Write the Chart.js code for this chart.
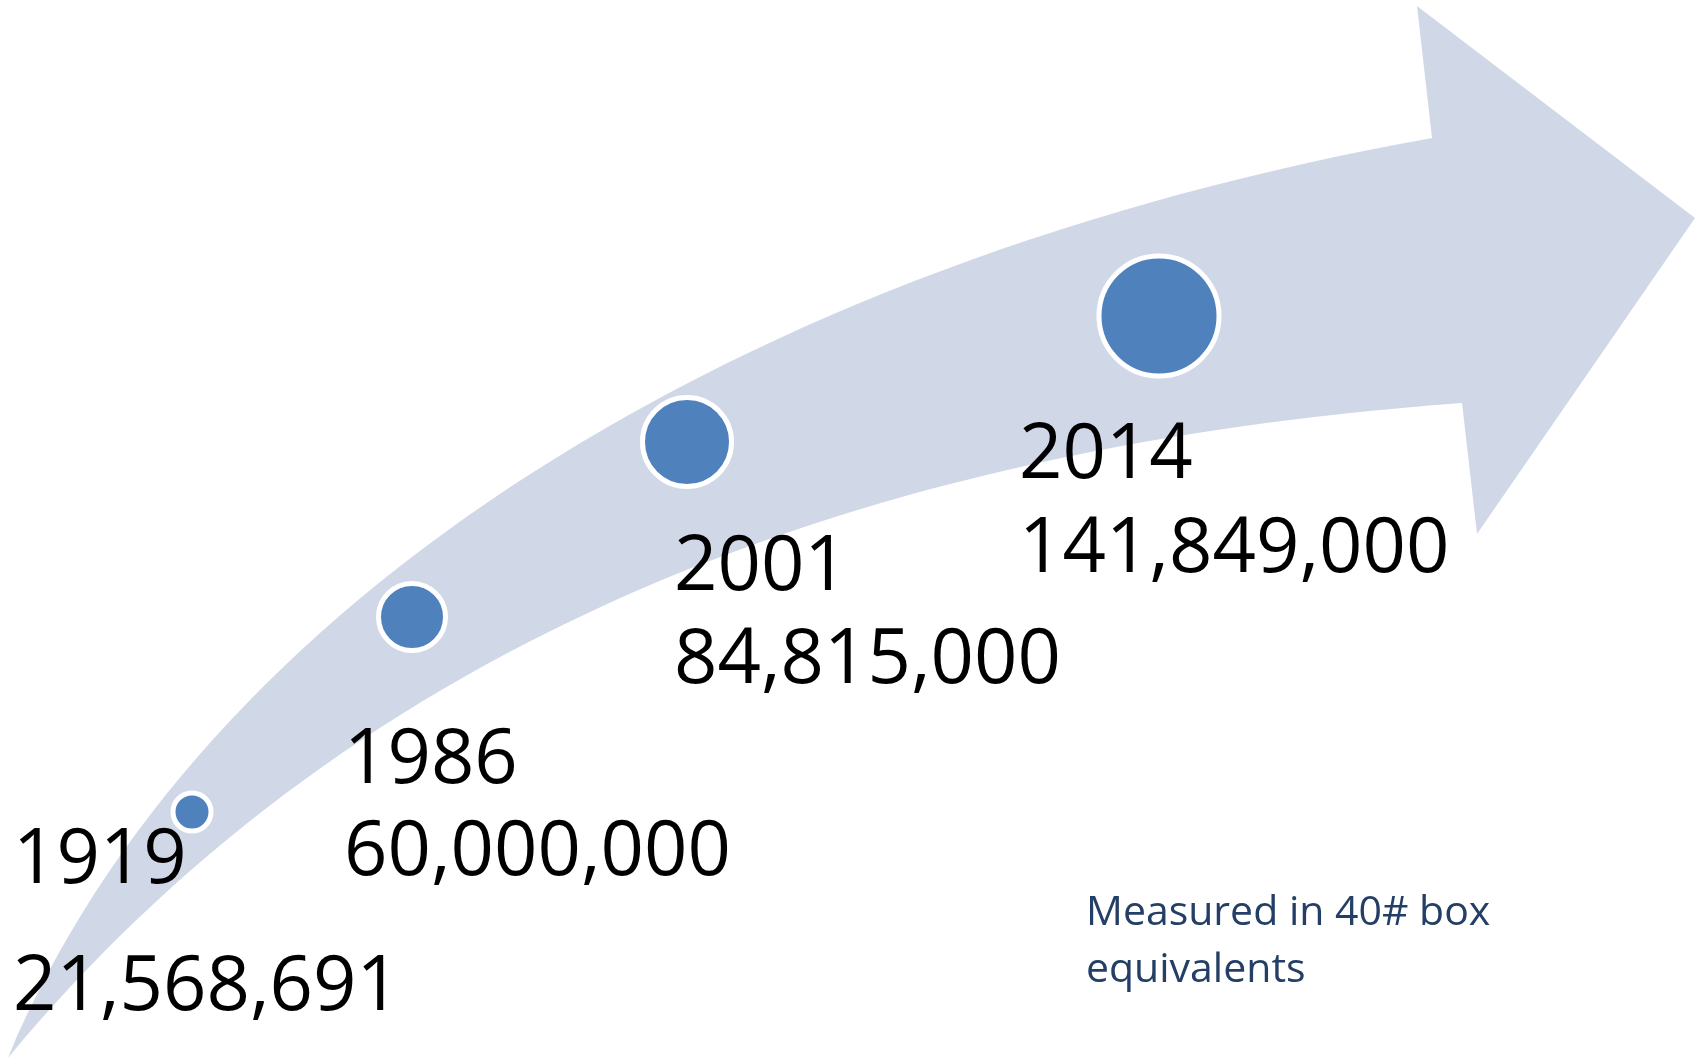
<!DOCTYPE html>
<html>
<head>
<meta charset="utf-8">
<script src="https://cdn.jsdelivr.net/npm/chart.js@4/dist/chart.umd.min.js"></script>
<style>
  html, body { margin: 0; padding: 0; background: #fff; }
  #wrap { width: 1702px; height: 1060px; }
</style>
</head>
<body>
<div id="wrap"><canvas id="graficoCajas" width="1702" height="1060"></canvas></div>
<script>
// Datos
const years = ['1919', '1986', '2001', '2014'];
const volumes = [21568691, 60000000, 84815000, 141849000];
const note = ['Measured in 40# box', 'equivalents'];

// Maquetación (unidades del diagrama, 1702 x 1060)
const markerX = [192, 412, 687, 1159];
const markerY = [812, 617, 442, 316];
const markerR = [19, 33.5, 44.5, 60];
const labelX = [13, 344, 674, 1019];
const yearBase = [883, 783, 590, 478];
const valueBase = [1010, 875, 683, 572];

const FONT = '"Open Sans", "Noto Sans", sans-serif';

// Flecha curva de fondo
const arrowPlugin = {
  id: 'arrow',
  beforeDatasetsDraw(chart) {
    const { ctx, scales: { x, y } } = chart;
    const X = v => x.getPixelForValue(v);
    const Y = v => y.getPixelForValue(v);
    ctx.save();
    ctx.beginPath();
    ctx.moveTo(X(8), Y(1058));
    ctx.bezierCurveTo(X(200), Y(600), X(740), Y(262), X(1432), Y(138));
    ctx.lineTo(X(1417), Y(6));
    ctx.lineTo(X(1695), Y(218));
    ctx.lineTo(X(1477), Y(534));
    ctx.lineTo(X(1462), Y(403));
    ctx.bezierCurveTo(X(820), Y(450), X(340), Y(660), X(8), Y(1058));
    ctx.closePath();
    ctx.fillStyle = '#D0D8E8';
    ctx.fill();
    ctx.restore();
  }
};

// Etiquetas
const labelPlugin = {
  id: 'labels',
  afterDatasetsDraw(chart) {
    const { ctx, scales: { x, y } } = chart;
    ctx.save();
    ctx.textAlign = 'left';
    ctx.textBaseline = 'alphabetic';
    ctx.fillStyle = '#000';
    ctx.font = '76px ' + FONT;
    years.forEach((yr, i) => {
      const px = x.getPixelForValue(labelX[i]);
      ctx.fillText(yr, px, y.getPixelForValue(yearBase[i]));
      ctx.fillText(volumes[i].toLocaleString('en-US'), px, y.getPixelForValue(valueBase[i]));
    });
    ctx.fillStyle = '#243F66';
    ctx.font = '41px ' + FONT;
    ctx.fillText(note[0], x.getPixelForValue(1086), y.getPixelForValue(925));
    ctx.fillText(note[1], x.getPixelForValue(1086), y.getPixelForValue(982));
    ctx.restore();
  }
};

new Chart(document.getElementById('graficoCajas').getContext('2d'), {
  type: 'bubble',
  data: {
    labels: years,
    datasets: [{
      label: 'Cajas',
      data: years.map((yr, i) => ({ x: markerX[i], y: markerY[i], r: markerR[i] })),
      backgroundColor: '#4F81BD',
      borderColor: '#FFFFFF',
      borderWidth: 5,
      clip: false
    }]
  },
  options: {
    responsive: false,
    animation: false,
    events: [],
    layout: { padding: 0, autoPadding: false },
    plugins: { legend: { display: false }, tooltip: { enabled: false } },
    scales: {
      x: { type: 'linear', min: 0, max: 1702, display: false },
      y: { type: 'linear', min: 0, max: 1060, reverse: true, display: false }
    }
  },
  plugins: [arrowPlugin, labelPlugin]
});
</script>
</body>
</html>
